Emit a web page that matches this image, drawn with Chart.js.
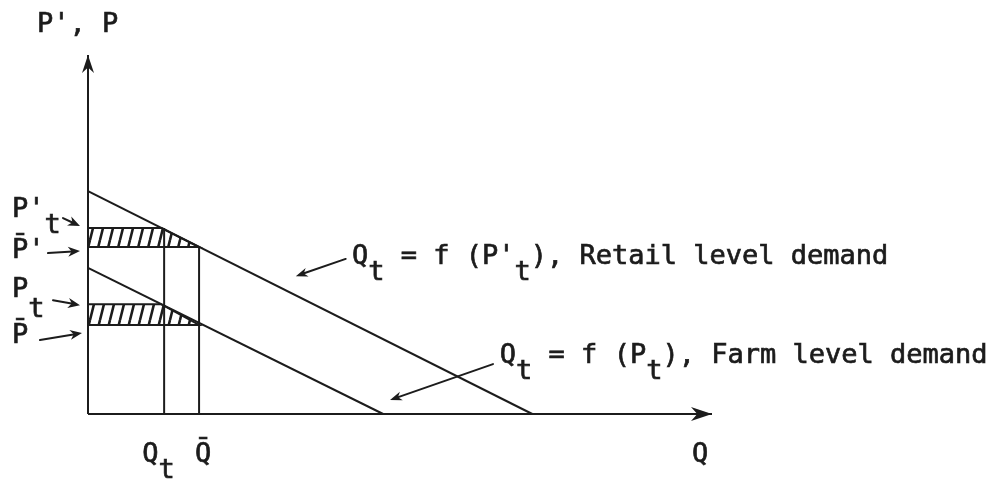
<!DOCTYPE html>
<html>
<head>
<meta charset="utf-8">
<script src="https://cdn.jsdelivr.net/npm/chart.js@4.4.1/dist/chart.umd.min.js"></script>
<style>
  html, body { margin: 0; padding: 0; background: #fff; }
  #wrap { width: 989px; height: 483px; }
</style>
</head>
<body>
<div id="wrap"><canvas id="demand"></canvas></div>
<script>
// axis extent (data units)
const qMax = 10;
const pMax = 10;

// demand curves, [Q, P] end points
const retailDemand = [[0, 6.21], [7.12, 0]];
const farmDemand = [[0, 4.07], [4.73, 0]];

// quantities and prices marked on the axes
const qT = 1.22;
const qBar = 1.78;
const pRetailT = 5.18;
const pRetailBar = 4.65;
const pFarmT = 3.06;
const pFarmBar = 2.48;
// where the demand lines cross P't and Pt
const qRetailEdge = 1.18;
const qFarmEdge = 1.17;

// annotation arrows (data units): [tail, head]
const retailArrow = [[4.13, 4.32], [3.33, 3.84]];
const farmArrow = [[6.49, 1.39], [4.84, 0.39]];
const retailTextAt = [4.23, 4.18];
const farmTextAt = [6.60, 1.42];

const ink = '#1c1c1c';
const font = '27px "DejaVu Sans Mono", monospace';

const pts = arr => arr.map(([x, y]) => ({ x, y }));
const line = (data, extra) => Object.assign({
    data: pts(data), showLine: true, borderColor: ink, borderWidth: 2,
    pointRadius: 0, fill: false, clip: false, tension: 0
}, extra);

function hatch() {
    const c = document.createElement('canvas');
    c.width = 10; c.height = 40;
    const g = c.getContext('2d');
    g.strokeStyle = ink; g.lineWidth = 2.6;
    g.beginPath();
    for (const k of [-1, 0, 1]) { g.moveTo(k * 10, 40); g.lineTo(k * 10 + 10, 0); }
    g.stroke();
    return g.createPattern(c, 'repeat');
}

function arrow(ctx, x0, y0, x1, y1, len, half) {
    const a = Math.atan2(y1 - y0, x1 - x0);
    ctx.beginPath();
    ctx.moveTo(x0, y0);
    ctx.lineTo(x1 - Math.cos(a) * len * 0.6, y1 - Math.sin(a) * len * 0.6);
    ctx.stroke();
    ctx.beginPath();
    ctx.moveTo(x1, y1);
    ctx.lineTo(x1 - Math.cos(a) * len - Math.sin(a) * half, y1 - Math.sin(a) * len + Math.cos(a) * half);
    ctx.lineTo(x1 - Math.cos(a) * len * 0.7, y1 - Math.sin(a) * len * 0.7);
    ctx.lineTo(x1 - Math.cos(a) * len + Math.sin(a) * half, y1 - Math.sin(a) * len - Math.cos(a) * half);
    ctx.closePath();
    ctx.fill();
}

// text pieces: [string, baseline shift in px]; a hairline stroke thickens the typewriter look
function rich(ctx, x, y, parts) {
    for (const [s, dy] of parts) {
        ctx.fillText(s, x, y + dy);
        ctx.strokeText(s, x, y + dy);
        x += ctx.measureText(s).width;
    }
}

const sketch = {
    id: 'sketch',
    afterDatasetsDraw(chart) {
        const { ctx, scales: { x, y } } = chart;
        const px = v => x.getPixelForValue(v);
        const py = v => y.getPixelForValue(v);
        const ax = px(0);
        ctx.save();
        ctx.strokeStyle = ink; ctx.fillStyle = ink;
        ctx.lineWidth = 2; ctx.lineCap = 'round';
        ctx.font = font; ctx.textBaseline = 'alphabetic';

        // axis arrow heads
        arrow(ctx, ax, py(pMax) + 30, ax, py(pMax), 18, 6);
        arrow(ctx, px(qMax) - 30, py(0), px(qMax), py(0), 21, 7);

        // price labels with their little arrows
        const left = [
            { p: pRetailT, parts: [["P'", -11], ['t', 5]], a: [[-25, -10], [-8, -2]] },
            { p: pRetailBar, parts: [["P\u0304'", 11]], a: [[-40, 6], [-8, 4]] },
            { p: pFarmT, parts: [['P', -7], ['t', 13]], a: [[-35, -4], [-8, 1]] },
            { p: pFarmBar, parts: [['P\u0304', 18]], a: [[-48, 15], [-6, 8]] }
        ];
        for (const l of left) {
            const ly = py(l.p);
            ctx.lineWidth = 0.7;
            rich(ctx, ax - 76, ly, l.parts);
            ctx.lineWidth = 2;
            arrow(ctx, ax + l.a[0][0], ly + l.a[0][1], ax + l.a[1][0], ly + l.a[1][1], 12, 5);
        }

        // axis titles
        ctx.lineWidth = 0.7;
        rich(ctx, ax - 51, py(pMax) - 23, [["P', P", 0]]);
        rich(ctx, px(qT) - 22, py(0) + 48, [['Q', 0], ['t', 16]]);
        rich(ctx, px(qBar) - 4, py(0) + 48, [['Q\u0304', 0]]);
        rich(ctx, px(qMax) - 20, py(0) + 48, [['Q', 0]]);

        // curve annotations
        rich(ctx, px(retailTextAt[0]), py(retailTextAt[1]),
            [['Q', 0], ['t', 16], [" = f (P'", 0], ['t', 16], ['), Retail level demand', 0]]);
        rich(ctx, px(farmTextAt[0]), py(farmTextAt[1]),
            [['Q', 0], ['t', 16], [' = f (P', 0], ['t', 16], ['), Farm level demand', 0]]);
        ctx.lineWidth = 2;
        arrow(ctx, px(retailArrow[0][0]), py(retailArrow[0][1]), px(retailArrow[1][0]), py(retailArrow[1][1]), 12, 4.5);
        arrow(ctx, px(farmArrow[0][0]), py(farmArrow[0][1]), px(farmArrow[1][0]), py(farmArrow[1][1]), 12, 4.5);
        ctx.restore();
    }
};

new Chart(document.getElementById('demand'), {
    type: 'scatter',
    data: {
        datasets: [
            line([[0, 0], [qMax, 0]]),
            line([[0, 0], [0, pMax]]),
            line(retailDemand),
            line(farmDemand),
            line([[qT, 0], [qT, pRetailT]]),
            line([[qBar, 0], [qBar, pRetailBar]]),
            line([[0, pRetailT], [qRetailEdge, pRetailT], [qBar, pRetailBar], [0, pRetailBar], [0, pRetailT]],
                { fill: 'shape', backgroundColor: hatch() }),
            line([[0, pFarmT], [qFarmEdge, pFarmT], [qBar, pFarmBar], [0, pFarmBar], [0, pFarmT]],
                { fill: 'shape', backgroundColor: hatch() })
        ]
    },
    options: {
        responsive: true,
        maintainAspectRatio: false,
        animation: false,
        events: [],
        layout: { padding: { left: 88, right: 277, top: 55, bottom: 69 } },
        scales: {
            x: { type: 'linear', min: 0, max: qMax, display: false },
            y: { type: 'linear', min: 0, max: pMax, display: false }
        },
        plugins: { legend: { display: false }, tooltip: { enabled: false } }
    },
    plugins: [sketch]
});
</script>
</body>
</html>
